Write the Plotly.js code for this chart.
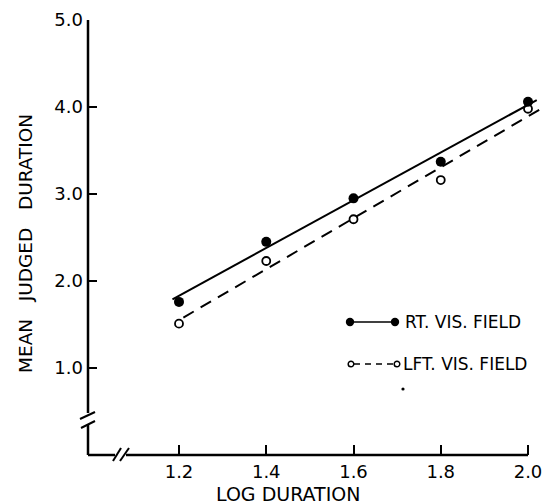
<!DOCTYPE html>
<html>
<head>
<meta charset="utf-8">
<script src="https://cdn.plot.ly/plotly-3.0.1.min.js"></script>
<style>html,body{margin:0;padding:0;background:#fff;}#chart{width:547px;height:504px;}</style>
</head>
<body>
<div id="chart"></div>
<script>
// Data
var logDuration = [1.2, 1.4, 1.6, 1.8, 2.0];
var rtVisField = [1.76, 2.45, 2.95, 3.37, 4.06];
var lftVisField = [1.51, 2.23, 2.71, 3.16, 3.98];
// fitted lines (end points as drawn)
var rtFitX = [1.185, 2.02];
var rtFitY = [1.79, 4.08];
var lftFitX = [1.21, 2.03];
var lftFitY = [1.58, 3.98];
var xTickVals = [1.2, 1.4, 1.6, 1.8, 2.0];
var xTickText = ["1.2", "1.4", "1.6", "1.8", "2.0"];
var yTickVals = [1, 2, 3, 4, 5];
var yTickText = ["1.0", "2.0", "3.0", "4.0", "5.0"];
var seriesNames = ["RT. VIS. FIELD", "LFT. VIS. FIELD"];
var xTitle = "LOG DURATION";
var yTitle = "MEAN\u00a0\u00a0\u00a0JUDGED\u00a0\u00a0\u00a0DURATION";

var FONT = "DejaVu Sans, Liberation Sans, Arial, sans-serif";

var traces = [
  {x: rtFitX, y: rtFitY, mode: 'lines', line: {color: '#000', width: 2}, showlegend: false, hoverinfo: 'skip'},
  {x: lftFitX, y: lftFitY, mode: 'lines', line: {color: '#000', width: 2, dash: '12px,8px'}, showlegend: false, hoverinfo: 'skip'},
  {x: logDuration, y: rtVisField, mode: 'markers', name: seriesNames[0], cliponaxis: false,
   marker: {symbol: 'circle', size: 10, color: '#000', line: {color: '#000', width: 0}}, showlegend: false},
  {x: logDuration, y: lftVisField, mode: 'markers', name: seriesNames[1], cliponaxis: false,
   marker: {symbol: 'circle-open', size: 8, color: '#000', line: {color: '#000', width: 1.8}}, showlegend: false}
];

var ML = 88, MR = 4, MT = 20, MB = 49;
var PW = 547 - ML - MR, PH = 504 - MT - MB;
function px2paperX(px) { return (px - ML) / PW; }
function px2paperY(py) { return (504 - MB - py) / PH; }
function seg(x0, y0, x1, y1, w, dash) {
  return {type: 'line', xref: 'paper', yref: 'paper',
    x0: px2paperX(x0), y0: px2paperY(y0), x1: px2paperX(x1), y1: px2paperY(y1),
    line: {color: '#000', width: w || 2.5, dash: dash || 'solid'}};
}
function dot(cx, cy, r, filled) {
  return {type: 'circle', xref: 'paper', yref: 'paper',
    x0: px2paperX(cx - r), x1: px2paperX(cx + r), y0: px2paperY(cy + r), y1: px2paperY(cy - r),
    fillcolor: filled ? '#000' : '#fff', line: {color: '#000', width: filled ? 0 : 1.5}};
}

var shapes = [
  // y axis with break
  seg(88, 20, 88, 413),
  seg(80, 419, 95, 412, 2),
  seg(81, 428, 95, 421, 2),
  seg(88, 424, 88, 455),
  // x axis with break
  seg(88, 455, 115, 455),
  seg(113, 461, 121, 448, 2),
  seg(120, 461, 129, 448, 2),
  seg(126, 455, 528, 455),
  // legend
  seg(350, 322, 395, 322, 1.5),
  dot(350, 322, 4.2, true),
  dot(395, 322, 4.2, true),
  seg(354, 364, 394, 364, 1.5, '6px,5px'),
  dot(351, 364, 2.8, false),
  dot(397, 364, 2.8, false),
  dot(403, 389, 1.6, true)
];

var annotations = [
  {text: seriesNames[0], xref: 'paper', yref: 'paper', x: px2paperX(403), y: px2paperY(322),
   xanchor: 'left', yanchor: 'middle', showarrow: false, font: {family: FONT, size: 17, color: '#000'}},
  {text: seriesNames[1], xref: 'paper', yref: 'paper', x: px2paperX(401), y: px2paperY(364),
   xanchor: 'left', yanchor: 'middle', showarrow: false, font: {family: FONT, size: 17, color: '#000'}},
  {text: yTitle, xref: 'paper', yref: 'paper', x: px2paperX(25), y: px2paperY(244),
   xanchor: 'center', yanchor: 'middle', textangle: -90, showarrow: false, font: {family: FONT, size: 18.5, color: '#000'}},
  {text: xTitle, xref: 'paper', yref: 'paper', x: px2paperX(288), y: px2paperY(494),
   xanchor: 'center', yanchor: 'middle', showarrow: false, font: {family: FONT, size: 19, color: '#000'}}
];

var xRange = [2.0 - 440 / 436.25, 2.0 + (547 - MR - 528) / 436.25];

var layout = {
  width: 547, height: 504,
  margin: {l: ML, r: MR, t: MT, b: MB, pad: 0},
  paper_bgcolor: '#fff', plot_bgcolor: '#fff',
  showlegend: false,
  xaxis: {range: xRange, tickvals: xTickVals, ticktext: xTickText, ticks: 'inside', ticklen: 10,
    tickwidth: 2, tickcolor: '#000', showline: false, showgrid: false, zeroline: false,
    ticklabelstandoff: 4,
    tickfont: {family: FONT, size: 18, color: '#000'}, fixedrange: true},
  yaxis: {range: [0, 5], tickvals: yTickVals, ticktext: yTickText, ticks: 'inside', ticklen: 9,
    tickwidth: 2, tickcolor: '#000', showline: false, showgrid: false, zeroline: false,
    ticklabelstandoff: 4,
    tickfont: {family: FONT, size: 18, color: '#000'}, fixedrange: true},
  shapes: shapes,
  annotations: annotations
};

Plotly.newPlot('chart', traces, layout, {displayModeBar: false, staticPlot: true});
</script>
</body>
</html>
